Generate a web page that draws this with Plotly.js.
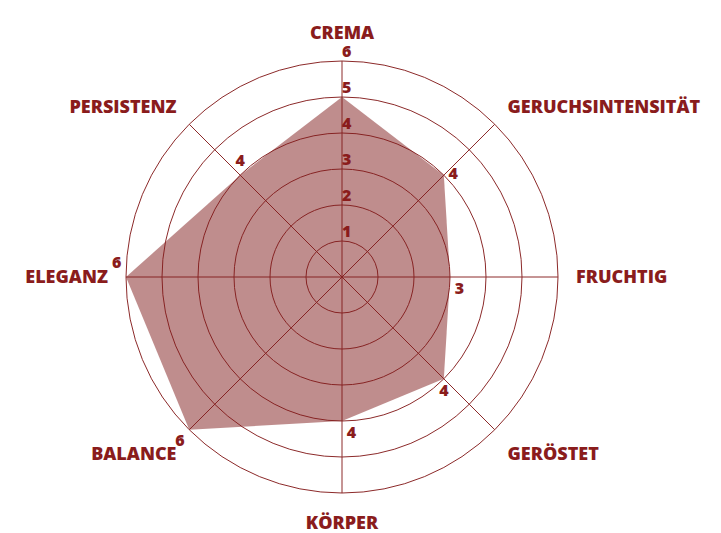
<!DOCTYPE html>
<html>
<head>
<meta charset="utf-8">
<script src="https://cdn.plot.ly/plotly-3.0.1.min.js"></script>
<style>html,body{margin:0;padding:0;background:#fff;}#chart{width:721px;height:533px;}</style>
</head>
<body>
<div id="chart"></div>
<script>
var categories = ["CREMA", "GERUCHSINTENSITÄT", "FRUCHTIG", "GERÖSTET", "KÖRPER", "BALANCE", "ELEGANZ", "PERSISTENZ"];
var values = [5, 4, 3, 4, 4, 6, 6, 4];
var valueLabels = ["", "4", "3", "4", "4", "6", "6", "4"];
var valueLabelPos = ["top right", "middle right", "bottom right", "bottom center", "bottom right", "bottom left", "top left", "top center"];
var tickValues = [1, 2, 3, 4, 5, 6];
var tickLabels = ["1", "2", "3", "4", "5", "6"];

var dark = "#8c2a2a";
var textColor = "#8a1c1c";
var fontFam = "'Open Sans', Lato, sans-serif";

var traces = [
  {
    type: "scatterpolar",
    r: values.concat([values[0]]),
    theta: categories.concat([categories[0]]),
    mode: "lines",
    fill: "toself",
    fillcolor: "rgba(128,28,28,0.5)",
    line: {width: 0, color: "rgba(0,0,0,0)"},
    hoverinfo: "skip",
    showlegend: false
  },
  {
    type: "scatterpolar",
    r: values,
    theta: categories,
    mode: "markers+text",
    marker: {size: 6, color: textColor, opacity: 0},
    text: valueLabels,
    textposition: valueLabelPos,
    textfont: {family: fontFam, size: 16, color: textColor, weight: 800},
    hoverinfo: "skip",
    showlegend: false
  },
  {
    type: "scatterpolar",
    r: tickValues,
    theta: tickValues.map(function(){return categories[0];}),
    mode: "text",
    text: tickLabels,
    textposition: "top right",
    textfont: {family: fontFam, size: 16, color: textColor, weight: 800},
    hoverinfo: "skip",
    showlegend: false
  }
];

var layout = {
  width: 721,
  height: 533,
  margin: {l: 0, r: 0, t: 0, b: 0},
  paper_bgcolor: "#fff",
  plot_bgcolor: "#fff",
  showlegend: false,
  polar: {
    domain: {x: [126/721, 558/721], y: [40/533, 472/533]},
    bgcolor: "rgba(0,0,0,0)",
    radialaxis: {
      range: [0, 6],
      tickvals: tickValues,
      showticklabels: false,
      ticks: "",
      showline: false,
      gridcolor: dark,
      gridwidth: 1,
      layer: "above traces"
    },
    angularaxis: {
      direction: "clockwise",
      rotation: 90,
      type: "category",
      categoryarray: categories,
      showline: true,
      linecolor: dark,
      linewidth: 1,
      gridcolor: dark,
      gridwidth: 1,
      ticks: "outside",
      ticklen: 14,
      tickcolor: "rgba(0,0,0,0)",
      tickfont: {family: fontFam, size: 18, color: textColor, weight: 800},
      layer: "above traces"
    }
  }
};

Plotly.newPlot("chart", traces, layout, {displayModeBar: false, staticPlot: true});
</script>
</body>
</html>
